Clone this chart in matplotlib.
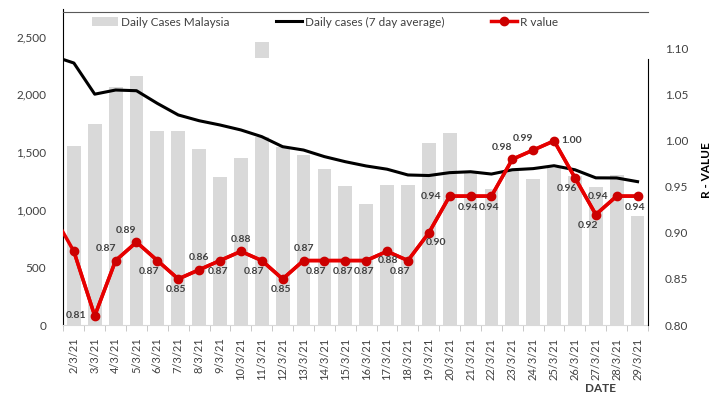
import matplotlib.pyplot as plt
import numpy as np

# -----------------------------
# Data
# -----------------------------
dates = ["2/3/21", "3/3/21", "4/3/21", "5/3/21", "6/3/21", "7/3/21", "8/3/21",
         "9/3/21", "10/3/21", "11/3/21", "12/3/21", "13/3/21", "14/3/21", "15/3/21",
         "16/3/21", "17/3/21", "18/3/21", "19/3/21", "20/3/21", "21/3/21", "22/3/21",
         "23/3/21", "24/3/21", "25/3/21", "26/3/21", "27/3/21", "28/3/21", "29/3/21"]

daily_cases = [1555, 1745, 2063, 2154, 1683, 1680, 1529, 1280, 1448, 1629,
               1545, 1475, 1354, 1208, 1051, 1213, 1213, 1575, 1666, 1316,
               1180, 1347, 1268, 1360, 1288, 1198, 1301, 941]

avg7 = [2270, 2000, 2036, 2030, 1920, 1820, 1770, 1733, 1690, 1632,
        1545, 1516, 1459, 1415, 1378, 1350, 1300, 1295, 1320, 1328,
        1308, 1345, 1355, 1380, 1345, 1275, 1274, 1242]

r_value = [0.88, 0.81, 0.87, 0.89, 0.87, 0.85, 0.86, 0.87, 0.88, 0.87,
           0.85, 0.87, 0.87, 0.87, 0.87, 0.88, 0.87, 0.90, 0.94, 0.94,
           0.94, 0.98, 0.99, 1.00, 0.96, 0.92, 0.94, 0.94]

# values of the day before the window (only the clipped line stubs show)
avg7_before = 2330
r_before = 0.92

# stray grey block above the 11/3/21 bar
stray_block = (2310, 2450)

# where each R label sits relative to its point (first one is hidden)
label_pos = [None, "l", "al", "al", "bl", "b", "a", "b", "a", "bl",
             "b", "a", "bl", "b", "b", "b2", "bl", "br", "l", "b",
             "b", "al", "al", "r", "bl", "bl", "l", "b"]
offsets = {"a": (0, 12), "b": (-2, -11), "b2": (1, -9), "l": (-19, 0), "r": (18, 0),
           "al": (-10, 12), "bl": (-8, -11), "br": (7, -10)}

plt.rcParams['font.family'] = ['Lato', 'DejaVu Sans']

bar_color = "#d9d9d9"
red = "#e60000"
text_gray = "#404040"

fig = plt.figure(figsize=(7.21, 3.99), dpi=100)
ax = fig.add_axes([63 / 721, 1 - 325 / 399, (648 - 63) / 721, (325 - 12) / 399])
ax2 = ax.twinx()

x = np.arange(len(dates))

bars = ax.bar(x, daily_cases, width=0.66, color=bar_color, zorder=1)
ax.bar(x[9], stray_block[1] - stray_block[0], bottom=stray_block[0], width=0.66,
       color=bar_color, zorder=1)
avg_line, = ax.plot(np.r_[-1, x], [avg7_before] + avg7, color="black", lw=2.2,
                    solid_joinstyle="round", zorder=2)

ax2.plot(np.r_[-1, x], [r_before] + r_value, color=red, lw=2.5, zorder=3)
r_line, = ax2.plot(x, r_value, color=red, lw=2.5, marker="o", ms=6,
                   mfc="#cc0000", mec="#cc0000", zorder=3)

for i, (v, pos) in enumerate(zip(r_value, label_pos)):
    if pos is None:
        continue
    ax2.annotate(f"{v:.2f}", (x[i], v), xytext=offsets[pos], textcoords="offset pixels",
                 ha="center", va="center", fontsize=7.5, fontweight="bold", color=text_gray)

# axes ranges
ax.set_xlim(-0.52, 27.38)
ax.set_ylim(0, 2712)
ax2.set_ylim(0.80, 1.140)
ax.set_zorder(ax2.get_zorder() - 1)
ax2.patch.set_visible(False)

ax.set_yticks([0, 500, 1000, 1500, 2000, 2500])
ax.set_yticklabels(["0", "500", "1,000", "1,500", "2,000", "2,500"])
ax2.set_yticks([0.80, 0.85, 0.90, 0.95, 1.00, 1.05, 1.10])
ax2.set_yticklabels([f"{t:.2f}" for t in [0.80, 0.85, 0.90, 0.95, 1.00, 1.05, 1.10]])

ax.set_xticks(x)
ax.set_xticklabels(dates, rotation=90)
ax.set_xticks(np.arange(-0.5, 28, 1), minor=True)

ax.tick_params(axis="x", which="major", length=0, pad=9, labelsize=8, labelcolor=text_gray)
ax.tick_params(axis="x", which="minor", length=4, color="#bfbfbf")
ax.tick_params(axis="y", length=0, pad=12, labelsize=8.5, labelcolor=text_gray)
ax2.tick_params(axis="y", length=0, pad=12, labelsize=8.5, labelcolor=text_gray)

for s in ["top", "right", "left", "bottom"]:
    ax2.spines[s].set_visible(False)
ax.spines["right"].set_visible(False)
ax.spines["left"].set_color("black")
ax.spines["left"].set_bounds(0, 2740)
ax.spines["top"].set_color("#595959")
ax.spines["bottom"].set_color("#d9d9d9")
ax2.spines["right"].set_visible(True)
ax2.spines["right"].set_color("black")
ax2.spines["right"].set_bounds(0.80, 1.089)

fig.text(600 / 721, 1 - 388 / 399, "DATE", ha="center", va="center",
         fontsize=8.5, fontweight="bold", color=text_gray)
fig.text(706 / 721, 1 - 170 / 399, "R - VALUE", ha="center", va="center",
         rotation=90, fontsize=8.5, fontweight="bold", color="black")

ax.legend([bars, avg_line, r_line],
          ["Daily Cases Malaysia", "Daily cases (7 day average)", "R value"],
          loc="center", bbox_to_anchor=(325 / 721, 1 - 22 / 399),
          bbox_transform=fig.transFigure, ncol=3, frameon=False, fontsize=8.5,
          handlelength=2.2, handletextpad=0.2, columnspacing=4.0, labelcolor=text_gray)

fig.savefig("out.png", dpi=100)
